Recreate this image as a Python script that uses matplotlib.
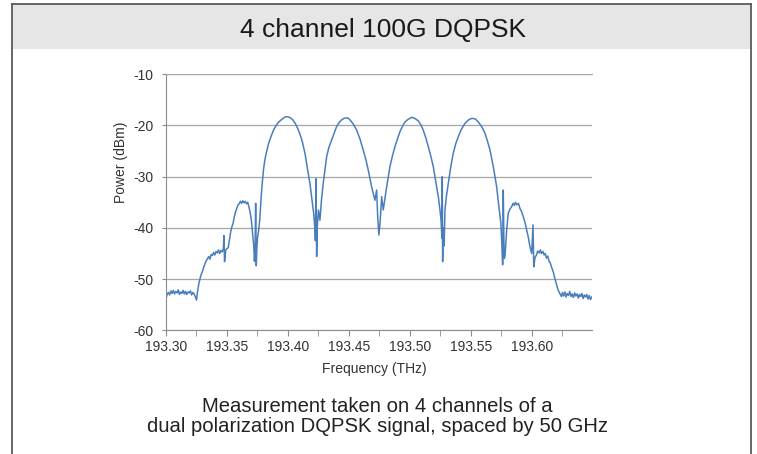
import numpy as np
import matplotlib
matplotlib.use("Agg")
import matplotlib.pyplot as plt
from matplotlib.patches import Rectangle
from matplotlib.lines import Line2D

plt.rcParams['font.family'] = ['Liberation Sans', 'DejaVu Sans']

# Spectrum trace (frequency in THz, power in dBm)
freq_thz = [
    # left noise floor
    193.300, 193.301, 193.302, 193.303, 193.304, 193.305, 193.306, 193.307, 193.308, 193.309,
    193.310, 193.311, 193.312, 193.313, 193.314, 193.315, 193.316, 193.317, 193.318, 193.319,
    193.320, 193.321, 193.322, 193.323, 193.324, 193.325,
    # rise to first shoulder
    193.326, 193.327, 193.328, 193.329, 193.330, 193.331, 193.332, 193.333, 193.334, 193.335,
    193.336, 193.337, 193.338, 193.339, 193.340, 193.341, 193.342, 193.343, 193.344, 193.345,
    193.346, 193.347, 193.3475, 193.348, 193.349, 193.350, 193.351,
    # left side lobe
    193.352, 193.353, 193.354, 193.355, 193.356, 193.357, 193.358, 193.359, 193.360, 193.361,
    193.362, 193.363, 193.364, 193.365, 193.366, 193.367, 193.368, 193.369, 193.370, 193.371,
    193.372, 193.3725, 193.373, 193.3735, 193.374, 193.3745, 193.375,
    # channel 1
    193.376, 193.377, 193.378, 193.379, 193.380, 193.381, 193.382, 193.384, 193.386, 193.388,
    193.390, 193.392, 193.394, 193.396, 193.398, 193.400, 193.402, 193.404, 193.406, 193.408,
    193.410, 193.412, 193.414, 193.416, 193.418, 193.420, 193.421, 193.422, 193.4225, 193.423,
    193.4235, 193.424, 193.425,
    # channel 2
    193.4262, 193.4275, 193.4289, 193.4300, 193.4317, 193.4335, 193.4358, 193.4380, 193.4399, 193.4420,
    193.4440, 193.4460, 193.4480, 193.4495, 193.4508, 193.4535, 193.4563, 193.4590, 193.4617, 193.4640,
    193.4658, 193.4686, 193.4713, 193.4727, 193.4735, 193.4745, 193.4755, 193.4768, 193.4781,
    # channel 3
    193.4809, 193.4836, 193.4857, 193.4877, 193.4898, 193.4918, 193.4940, 193.4959, 193.4985, 193.5014,
    193.5040, 193.5068, 193.5090, 193.5109, 193.5130, 193.5150, 193.5170, 193.5191, 193.5219, 193.5235,
    193.5246, 193.5255, 193.5262, 193.5265, 193.5268,
    # channel 4
    193.5272, 193.5280, 193.5287, 193.5300, 193.5314, 193.5335, 193.5355, 193.5375, 193.5396, 193.5420,
    193.5451, 193.5480, 193.5506, 193.5535, 193.5560, 193.5590, 193.5615, 193.5635, 193.5656, 193.5683,
    193.5711, 193.5732, 193.5745, 193.5752, 193.5760, 193.5765, 193.5772,
    # right side lobe
    193.5779, 193.5793, 193.5806, 193.5820, 193.5833, 193.5845, 193.5855, 193.5865, 193.5875, 193.5889,
    193.5902, 193.5915, 193.5929, 193.5943, 193.5957, 193.5970, 193.5984, 193.5998, 193.6009, 193.6015,
    193.6025, 193.6037, 193.6048, 193.6060, 193.6070, 193.6078, 193.6090, 193.6100, 193.6110, 193.6119,
    193.6130, 193.6140, 193.6150, 193.6160, 193.6175, 193.6187, 193.6200, 193.6214, 193.6228, 193.6242,
    # right noise floor
    193.625, 193.626, 193.627, 193.628, 193.629, 193.630, 193.631, 193.632, 193.633, 193.634,
    193.635, 193.636, 193.637, 193.638, 193.639, 193.640, 193.641, 193.642, 193.643, 193.644,
    193.645, 193.646, 193.647, 193.648, 193.649,
]

power_dbm = [
    # left noise floor
    -53.8, -52.9, -52.6, -53.1, -52.3, -52.8, -52.2, -52.9, -52.4, -52.7,
    -52.1, -53.0, -52.5, -52.8, -52.2, -52.9, -52.4, -53.0, -52.5, -52.7,
    -52.3, -53.1, -52.6, -52.9, -53.4, -54.1,
    # rise to first shoulder
    -52.2, -50.8, -49.8, -49.0, -48.4, -47.6, -47.0, -46.4, -46.0, -45.6,
    -46.1, -45.2, -45.4, -44.8, -45.3, -44.6, -44.9, -44.3, -45.0, -44.4,
    -44.7, -44.1, -41.5, -46.6, -44.3, -44.0, -43.9,
    # left side lobe
    -42.3, -40.8, -39.8, -39.1, -37.8, -36.9, -36.2, -35.5, -35.3, -34.8,
    -35.2, -34.7, -35.1, -34.8, -35.3, -35.0, -35.9, -37.0, -38.5, -41.0,
    -43.7, -46.5, -44.5, -35.2, -47.4, -44.0, -42.0,
    # channel 1
    -40.4, -38.0, -34.0, -31.0, -28.5, -26.8, -25.6, -23.6, -22.2, -21.0,
    -20.1, -19.4, -19.0, -18.6, -18.3, -18.3, -18.5, -18.9, -19.6, -20.6,
    -21.8, -23.4, -25.5, -28.5, -31.3, -35.0, -37.0, -40.0, -42.5, -30.4,
    -45.6, -40.0, -36.5,
    # channel 2
    -38.5, -34.5, -31.3, -29.2, -26.1, -24.3, -22.8, -21.4, -20.2, -19.4,
    -18.9, -18.6, -18.5, -18.6, -18.9, -19.7, -20.9, -22.6, -24.8, -26.8,
    -28.7, -32.0, -34.6, -32.6, -37.5, -41.4, -39.0, -33.9, -36.5,
    # channel 3
    -32.0, -28.0, -25.9, -24.1, -22.6, -21.2, -20.1, -19.3, -18.8, -18.4,
    -18.6, -19.1, -19.9, -20.9, -22.4, -24.1, -25.9, -28.0, -32.0, -34.3,
    -36.5, -38.5, -42.0, -30.0, -46.6,
    # channel 4
    -40.0, -43.5, -36.5, -33.6, -31.3, -28.0, -25.4, -23.6, -22.2, -20.8,
    -19.6, -18.9, -18.6, -18.7, -19.3, -20.3, -21.5, -23.0, -24.8, -28.0,
    -32.0, -36.5, -39.0, -42.4, -47.2, -32.6, -46.0,
    # right side lobe
    -45.6, -40.4, -37.1, -36.3, -35.9, -35.2, -35.6, -35.0, -35.5, -35.2,
    -36.2, -36.8, -37.8, -38.9, -40.4, -41.8, -43.7, -45.0, -39.4, -47.6,
    -45.8, -45.3, -44.5, -44.9, -44.3, -45.0, -44.6, -45.3, -45.0, -45.9,
    -45.5, -46.5, -46.8, -47.6, -48.6, -49.8, -50.9, -52.1, -52.8, -53.4,
    # right noise floor
    -52.6, -53.3, -52.5, -53.5, -52.8, -53.2, -52.4, -53.4, -52.9, -53.6,
    -52.7, -53.3, -52.9, -53.7, -53.0, -53.4, -52.8, -53.8, -53.1, -53.5,
    -53.0, -53.9, -53.2, -54.0, -53.5,
]

x_ticks = [193.30, 193.35, 193.40, 193.45, 193.50, 193.55, 193.60]
x_labels = ['193.30', '193.35', '193.40', '193.45', '193.50', '193.55', '193.60']
x_minor = [193.325, 193.375, 193.425, 193.475, 193.525, 193.575, 193.625]
y_ticks = [-60, -50, -40, -30, -20, -10]
y_labels = ['-60', '-50', '-40', '-30', '-20', '-10']

title = '4 channel 100G DQPSK'
caption = ['Measurement taken on 4 channels of a',
           'dual polarization DQPSK signal, spaced by 50 GHz']

W, H = 757, 454
fig = plt.figure(figsize=(W / 100, H / 100), dpi=100)


def fx(px):
    return px / W


def fy(py):
    return 1 - py / H


# framed panel with grey title band
frame_col = '#5a5a5a'
fig.add_artist(Rectangle((fx(12), fy(49)), fx(751) - fx(12), fy(4) - fy(49),
                         transform=fig.transFigure, facecolor='#e6e6e6', edgecolor='none'))
fig.add_artist(Line2D([fx(12), fx(12)], [0, fy(4)], color=frame_col, lw=1.3))
fig.add_artist(Line2D([fx(751), fx(751)], [0, fy(4)], color=frame_col, lw=1.3))
fig.add_artist(Line2D([fx(12), fx(751)], [fy(4), fy(4)], color=frame_col, lw=1.3))

fig.text(fx(383), fy(37.3), title, ha='center', va='baseline', fontsize=19, color='#1a1a1a')

ax = fig.add_axes([fx(166), fy(330.3), fx(591.7) - fx(166), fy(74.3) - fy(330.3)])
ax.plot(freq_thz, power_dbm, color='#4a7ebb', lw=1.1)

ax.set_xlim(193.30, 193.649)
ax.set_ylim(-60, -10)
ax.set_xticks(x_ticks)
ax.set_xticklabels(x_labels)
ax.set_xticks(x_minor, minor=True)
ax.set_yticks(y_ticks)
ax.set_yticklabels(y_labels)

axis_col = '#8c8c8c'
ax.grid(axis='y', color='#a6a6a6', lw=0.9)
ax.set_axisbelow(True)
ax.spines['right'].set_visible(False)
ax.spines['top'].set_color('#a6a6a6')
ax.spines['left'].set_color(axis_col)
ax.spines['bottom'].set_color(axis_col)
ax.tick_params(axis='x', which='both', length=4, color=axis_col, pad=3,
               labelsize=10, labelcolor='#333333')
ax.tick_params(axis='y', length=3, color=axis_col, pad=6,
               labelsize=10, labelcolor='#333333')

fig.text(fx(120.7), fy(162), 'Power (dBm)', rotation=90, ha='center', va='center',
         fontsize=10, color='#333333')
fig.text(fx(374), fy(368.5), 'Frequency (THz)', ha='center', va='center',
         fontsize=10, color='#333333')

fig.text(fx(377.5), fy(411.7), caption[0], ha='center', va='baseline', fontsize=14.6, color='#222222')
fig.text(fx(377.5), fy(431.7), caption[1], ha='center', va='baseline', fontsize=14.6, color='#222222')

fig.savefig('out.png', dpi=100)
